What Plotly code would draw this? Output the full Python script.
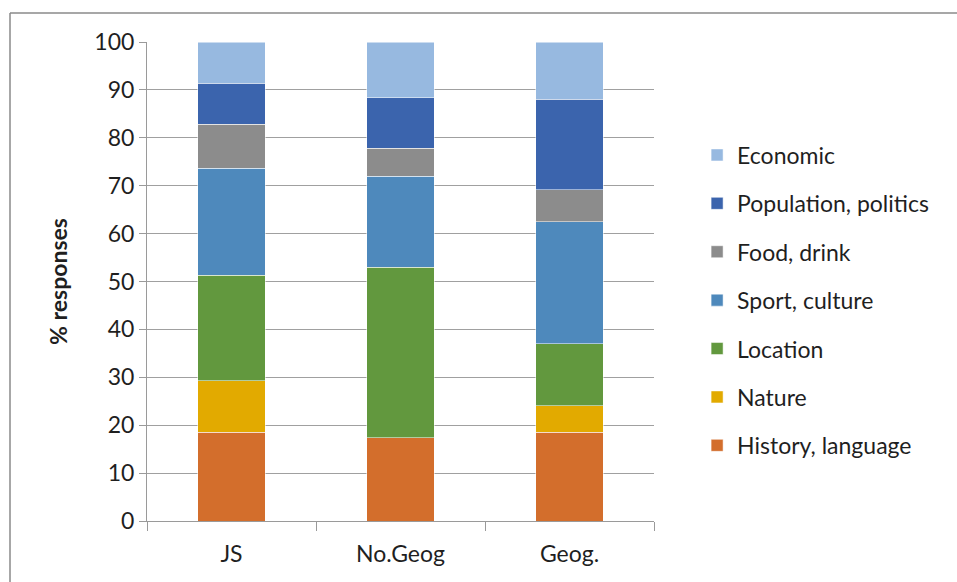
import plotly.graph_objects as go

categories = ["JS", "No.Geog", "Geog."]
series_names = ["History, language", "Nature", "Location", "Sport, culture",
                "Food, drink", "Population, politics", "Economic"]
history = [18.5, 17.4, 18.5]
nature = [10.8, 0.0, 5.6]
location = [22.0, 35.6, 12.9]
sport = [22.3, 19.0, 25.5]
food = [9.2, 5.8, 6.7]
population = [8.6, 10.6, 18.8]
economic = [8.6, 11.6, 12.0]
y_ticks = [0, 10, 20, 30, 40, 50, 60, 70, 80, 90, 100]

series_values = [history, nature, location, sport, food, population, economic]
colors = ["#D36E2C", "#E2AA00", "#62983E", "#4E89BC", "#8C8C8C", "#3B64AD", "#97B9E0"]

FONT = "Lato"
TXT = "#1f1f1f"

fig = go.Figure()
n = len(series_names)
for i, (name, vals, col) in enumerate(zip(series_names, series_values, colors)):
    fig.add_trace(go.Bar(
        x=categories, y=vals, name=name, legendgroup=name,
        legendrank=(n - i) * 10,
        marker=dict(color=col, line=dict(color="rgba(255,255,255,0.5)", width=1)),
    ))

fig.update_layout(
    width=957, height=582,
    barmode="stack", bargap=0.6,
    margin=dict(l=147, r=303, t=42, b=61),
    paper_bgcolor="white", plot_bgcolor="white",
    font=dict(family=FONT, size=23, color=TXT),
    showlegend=True,
    legend=dict(
        traceorder="grouped", tracegroupgap=15.5,
        x=1.085, y=0.809, xanchor="left", yanchor="top",
        font=dict(family=FONT, size=23, color=TXT),
        bgcolor="rgba(0,0,0,0)",
    ),
    xaxis=dict(
        showline=True, linecolor="#9a9a9a", linewidth=1,
        ticks="outside", tickson="boundaries", ticklen=9, tickcolor="#9a9a9a",
        showgrid=False, tickfont=dict(family=FONT, size=23, color=TXT),
        ticklabelstandoff=12,
    ),
    yaxis=dict(
        range=[0, 100], tickvals=y_ticks, showline=True, linecolor="#9a9a9a", linewidth=1,
        ticks="outside", ticklen=7, tickcolor="#9a9a9a",
        showgrid=True, gridcolor="#a0a0a0", gridwidth=1,
        tickfont=dict(family=FONT, size=23, color=TXT),
        title=dict(text="<b>% responses</b>", font=dict(family=FONT, size=23, color=TXT), standoff=20),
        zeroline=False,
    ),
    shapes=[
        dict(type="line", xref="paper", yref="paper",
             x0=(10 - 147) / 507, x1=(960 - 147) / 507,
             y0=(521 - 13) / 479, y1=(521 - 13) / 479,
             line=dict(color="#8a8a8a", width=1.5)),
        dict(type="line", xref="paper", yref="paper",
             x0=(10 - 147) / 507, x1=(10 - 147) / 507,
             y0=(521 - 13) / 479, y1=(521 - 590) / 479,
             line=dict(color="#8a8a8a", width=1.5)),
    ],
)

fig.write_html("out.html")
